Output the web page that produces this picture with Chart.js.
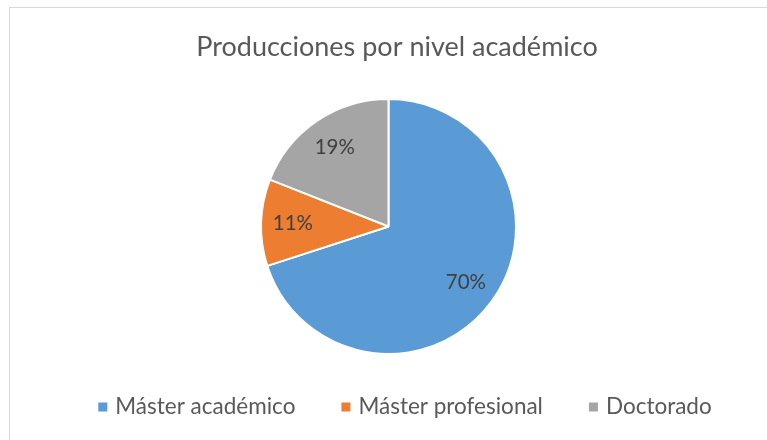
<!DOCTYPE html>
<html>
<head>
<meta charset="utf-8">
<script src="https://cdn.jsdelivr.net/npm/chart.js"></script>
<style>
  html, body { margin: 0; padding: 0; background: #fff; }
  #wrap { position: relative; width: 767px; height: 440px; overflow: hidden; }
  #card { position: absolute; left: 9px; top: 7px; width: 800px; height: 500px; border: 1px solid #d9d9d9; box-sizing: border-box; }
  canvas { position: absolute; left: 0; top: 0; }
</style>
</head>
<body>
<div id="wrap">
  <div id="card"></div>
  <canvas id="pieChart" width="767" height="440"></canvas>
</div>
<script>
const categories = ['Máster académico', 'Máster profesional', 'Doctorado'];
const values = [70, 11, 19];
const colors = ['#5B9BD5', '#ED7D31', '#A5A5A5'];
const titleText = 'Producciones por nivel académico';

const fontFamily = 'Lato, "Open Sans", sans-serif';

// title, drawn a bit right of the pie centre like the original
const topTitle = {
    id: 'topTitle',
    afterDraw(chart) {
        const ctx = chart.ctx;
        ctx.save();
        ctx.font = '27px ' + fontFamily;
        ctx.fillStyle = '#595959';
        ctx.textAlign = 'center';
        ctx.textBaseline = 'middle';
        ctx.fillText(titleText, 397, 47);
        ctx.restore();
    }
};

// percentage labels inside slices
const sliceLabels = {
    id: 'sliceLabels',
    afterDatasetsDraw(chart) {
        const ctx = chart.ctx;
        const meta = chart.getDatasetMeta(0);
        const total = values.reduce((a, b) => a + b, 0);
        ctx.save();
        ctx.font = '20.5px ' + fontFamily;
        ctx.fillStyle = '#404040';
        ctx.textAlign = 'center';
        ctx.textBaseline = 'middle';
        meta.data.forEach((arc, i) => {
            const p = arc.getProps(['x', 'y', 'startAngle', 'endAngle', 'outerRadius'], true);
            const mid = (p.startAngle + p.endAngle) / 2;
            const r = p.outerRadius * 0.75;
            const pct = Math.round(values[i] / total * 100) + '%';
            ctx.fillText(pct, p.x + Math.cos(mid) * r, p.y + Math.sin(mid) * r);
        });
        ctx.restore();
    }
};

// legend row at the bottom
const bottomLegend = {
    id: 'bottomLegend',
    afterDraw(chart) {
        const ctx = chart.ctx;
        ctx.save();
        ctx.font = '22.5px ' + fontFamily;
        ctx.textBaseline = 'middle';
        const box = 9, gapText = 8, gapItem = 46;
        const widths = categories.map(c => box + gapText + ctx.measureText(c).width);
        const totalW = widths.reduce((a, b) => a + b, 0) + gapItem * (categories.length - 1);
        let x = 405 - totalW / 2;
        const y = 407;
        categories.forEach((c, i) => {
            ctx.fillStyle = colors[i];
            ctx.fillRect(x, y - box / 2, box, box);
            ctx.fillStyle = '#595959';
            ctx.fillText(c, x + box + gapText, y);
            x += widths[i] + gapItem;
        });
        ctx.restore();
    }
};

const ctx = document.getElementById('pieChart').getContext('2d');
const chart = new Chart(ctx, {
    type: 'pie',
    data: {
        labels: categories,
        datasets: [{
            data: values,
            backgroundColor: colors,
            borderColor: '#ffffff',
            borderWidth: 2
        }]
    },
    options: {
        responsive: false,
        animation: false,
        layout: {
            padding: { left: 15, right: 5, top: 98, bottom: 85 }
        },
        plugins: {
            legend: { display: false },
            tooltip: { enabled: false },
            title: { display: false }
        }
    },
    plugins: [sliceLabels, bottomLegend, topTitle]
});
</script>
</body>
</html>
